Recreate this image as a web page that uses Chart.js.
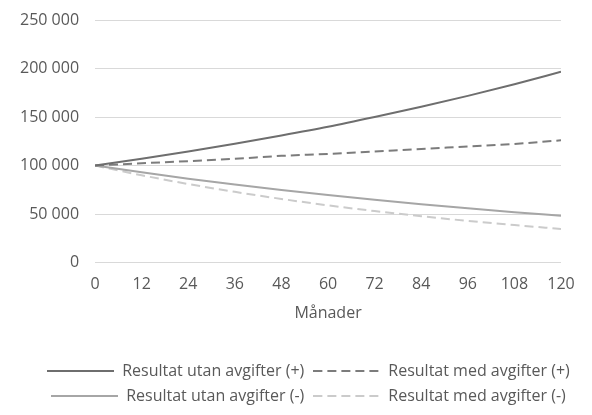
<!DOCTYPE html>
<html>
<head>
<meta charset="utf-8">
<script src="https://cdn.jsdelivr.net/npm/chart.js@4.4.0/dist/chart.umd.min.js"></script>
<style>
  html, body { margin: 0; padding: 0; background: #fff; }
  #wrap { width: 592px; height: 415px; }
</style>
</head>
<body>
<div id="wrap"><canvas id="resultChart"></canvas></div>
<script>
'use strict';

// månader (x) och värden läst ur bilden
const months = [0, 12, 24, 36, 48, 60, 72, 84, 96, 108, 120];
const utanPlus = [100000, 107000, 114500, 122500, 131000, 140000, 150000, 160500, 171800, 183800, 196700];
const medPlus = [100000, 102400, 104500, 107000, 110000, 112000, 114500, 117000, 119700, 122300, 126000];
const utanMinus = [100000, 93000, 86500, 80500, 74800, 69600, 64700, 60200, 56000, 52000, 48400];
const medMinus = [100000, 90000, 81000, 72900, 65600, 59000, 53100, 47800, 43000, 38700, 34700];
const yTicks = [0, 50000, 100000, 150000, 200000, 250000];

const FONT = { family: 'Open Sans', size: 16 };
const TEXT = '#595959';
const SAMPLE_W = 67;

function toPoints(values) {
  return values.map((v, i) => ({ x: months[i], y: v }));
}

function fmt(v) {
  return String(v).replace(/\B(?=(\d{3})+(?!\d))/g, ' ');
}

// legend sample: a short line, dashed if the dataset is dashed
function lineSample(color, dash) {
  const c = document.createElement('canvas');
  c.width = SAMPLE_W; c.height = 4;
  const g = c.getContext('2d');
  g.strokeStyle = color;
  g.lineWidth = 2;
  g.setLineDash(dash);
  g.beginPath();
  g.moveTo(0, 2);
  g.lineTo(SAMPLE_W, 2);
  g.stroke();
  return c;
}

function line(label, values, color, dash) {
  return {
    label: label,
    data: toPoints(values),
    borderColor: color,
    backgroundColor: color,
    borderWidth: 2,
    borderDash: dash,
    pointRadius: 0,
    pointStyle: lineSample(color, dash),
    cubicInterpolationMode: 'monotone',
    fill: false
  };
}

// the legend in the original sits a bit right of the canvas centre
const shiftLegend = {
  id: 'shiftLegend',
  afterLayout(chart) {
    chart.legend.left += 18;
    chart.legend.right += 18;
  }
};

new Chart(document.getElementById('resultChart'), {
  type: 'line',
  data: {
    datasets: [
      line('Resultat utan avgifter (+)', utanPlus, '#6e6e6e', []),
      line('Resultat med avgifter (+)', medPlus, '#7c7c7c', [9, 5]),
      line('Resultat utan avgifter (-)', utanMinus, '#a6a6a6', []),
      line('Resultat med avgifter (-)', medMinus, '#cbcbcb', [9, 5])
    ]
  },
  plugins: [shiftLegend],
  options: {
    responsive: true, maintainAspectRatio: false,
    animation: false,
    layout: { padding: { top: 20, right: 31, left: 20, bottom: 1 } },
    plugins: {
      tooltip: { enabled: false },
      legend: {
        position: 'bottom',
        labels: {
          font: FONT, color: TEXT,
          usePointStyle: true, pointStyleWidth: SAMPLE_W,
          padding: 9
        }
      }
    },
    scales: {
      x: {
        type: 'linear', min: 0, max: 120,
        grid: { display: false, drawTicks: true, tickLength: 12, tickColor: 'transparent' },
        border: { display: false },
        ticks: { stepSize: 12, font: FONT, color: TEXT, padding: 0, maxRotation: 0 },
        title: { display: true, text: 'Månader', font: FONT, color: TEXT, padding: { top: 10, bottom: 31 } }
      },
      y: {
        min: 0, max: 250000,
        afterBuildTicks: axis => { axis.ticks = yTicks.map(v => ({ value: v })); },
        grid: { color: '#d9d9d9', lineWidth: 1, drawTicks: true, tickLength: 16, tickColor: 'transparent' },
        border: { display: false },
        ticks: { font: FONT, color: TEXT, padding: 0, callback: v => fmt(v) }
      }
    }
  }
});
</script>
</body>
</html>
